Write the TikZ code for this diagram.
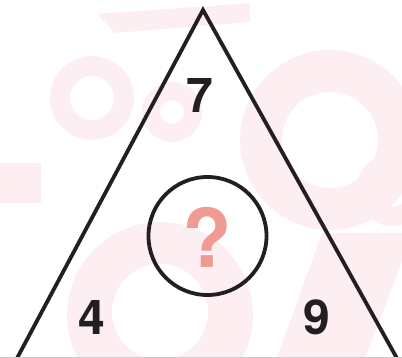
\documentclass[tikz,border=0pt]{standalone}
\usepackage{fontspec}
\setmainfont{TeX Gyre Heros}
\definecolor{qpink}{HTML}{F09A94}
\definecolor{wm}{HTML}{FDEFF1}
\definecolor{ink}{HTML}{231F20}
\begin{document}
\begin{tikzpicture}[x=1pt,y=-1pt,
  edge/.style={draw=ink,line width=3.8pt,line join=miter},
  num/.style={font=\fontsize{48}{48}\selectfont\bfseries,text=ink,inner sep=0pt},
  wmark/.style={fill=wm,draw=none}]
\useasboundingbox (0,0) rectangle (402,358);
% faint watermark shapes
\fill[wm] (0,163) rectangle (41,203);
\fill[wm,even odd rule] (160,315) circle (93) (160,312) circle (48);
\fill[wm,even odd rule] (330,140) circle (90) (330,140) circle (48);
\fill[wm,even odd rule] (392,190) circle (36) (392,190) circle (17);
\fill[wm] (277,358) -- (322,233) -- (402,233) -- (402,262) -- (365,358) -- cycle;
\fill[wm,even odd rule] (92,98) circle (42) (92,98) circle (22);
\fill[wm,even odd rule] (172,112) circle (30) (172,112) circle (12);
\fill[wm] (97,14) -- (115,33) -- (250,22) -- (250,3) -- cycle;
% triangle
\coordinate (apex) at (203,10);
\coordinate (bl) at (15,362);
\coordinate (br) at (399,362);
\draw[edge] (bl) -- (apex) -- (br);
\draw[gray!40,line width=0.8pt] (0,357.5) -- (402,357.5);
% circle
\node[draw=ink,line width=3.8pt,circle,minimum size=118pt,inner sep=0pt] (c) at (207.5,236) {};
\node[font=\fontsize{81}{81}\selectfont\bfseries,text=qpink,inner sep=0pt] (q) at (207.5,237) {?};
\node[num] (n7) at (200,95) {7};
\node[num] (n4) at (92,317) {4};
\node[num] (n9) at (317,317) {9};
\end{tikzpicture}
\end{document}
